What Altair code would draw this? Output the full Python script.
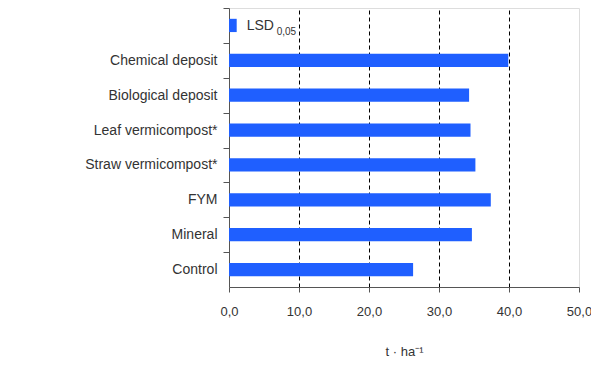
import altair as alt
import pandas as pd

# ---- data ----
categories = [
    "LSD",
    "Chemical deposit",
    "Biological deposit",
    "Leaf vermicompost*",
    "Straw vermicompost*",
    "FYM",
    "Mineral",
    "Control",
]
values = [1.1, 39.9, 34.3, 34.5, 35.2, 37.4, 34.7, 26.3]
x_ticks = [0, 10, 20, 30, 40, 50]
lsd_label = "LSD"
lsd_sub = "0,05"
x_title = "t · ha⁻¹"

df = pd.DataFrame({"treatment": categories, "yield": values})
lsd_df = df[df["treatment"] == "LSD"]

BLUE = "#1f5fff"
AXIS = "#555555"
TEXT = "#333333"
FONT = "Liberation Sans"

PLOT_W = 350
PLOT_H = 279
STEP = PLOT_H / len(categories)

y_scale = alt.Scale(paddingInner=0.62, paddingOuter=0.31)
x_scale = alt.Scale(domain=[0, 50], nice=False, zero=True)

x_enc = alt.X(
    "yield:Q",
    scale=x_scale,
    axis=alt.Axis(
        values=x_ticks,
        title=x_title,
        labelExpr="replace(format(datum.value, '.1f'), '.', ',')",
        labelFlush=False,
        grid=True,
        gridColor={
            "condition": {"test": "datum.value == 0 || datum.value == 50", "value": "transparent"},
            "value": "#000000",
        },
        gridDash=[4, 3],
        gridWidth=1,
        ticks=True,
        tickSize=5,
        tickWidth=1,
        tickOpacity=1,
        tickColor=AXIS,
        domainColor=AXIS,
        labelPadding=13,
        labelFont=FONT,
        labelFontSize=13,
        labelColor=TEXT,
        titleFont=FONT,
        titleFontSize=13,
        titleFontWeight="normal",
        titleColor=TEXT,
        titlePadding=27,
    ),
)

y_enc = alt.Y(
    "treatment:N",
    sort=categories,
    scale=y_scale,
    axis=alt.Axis(
        title=None,
        labelExpr="datum.value == 'LSD' ? '' : datum.value",
        ticks=True,
        tickBand="center",
        tickOffset=-STEP / 2,
        labelOffset=STEP / 2,
        tickSize=6,
        tickWidth=1,
        tickOpacity=1,
        tickColor=AXIS,
        domainColor=AXIS,
        labelPadding=6,
        labelFont=FONT,
        labelFontSize=14,
        labelColor=TEXT,
        grid=False,
    ),
)

bars = alt.Chart(df).mark_bar(color=BLUE).encode(x=x_enc, y=y_enc)

lsd_text = alt.Chart(lsd_df).mark_text(
    align="left", baseline="middle", dx=10, dy=1, fontSize=14, font=FONT, color=TEXT, text=lsd_label
).encode(
    x=alt.X("yield:Q", scale=x_scale),
    y=alt.Y("treatment:N", sort=categories, scale=y_scale),
)

lsd_sub_text = alt.Chart(lsd_df).mark_text(
    align="left", baseline="middle", dx=40, dy=7, fontSize=10, font=FONT, color=TEXT, text=lsd_sub
).encode(
    x=alt.X("yield:Q", scale=x_scale),
    y=alt.Y("treatment:N", sort=categories, scale=y_scale),
)

chart = (
    alt.layer(bars, lsd_text, lsd_sub_text)
    .properties(
        width=PLOT_W,
        height=PLOT_H,
        autosize=alt.AutoSizeParams(type="none"),
        padding={"left": 221, "top": 0, "right": 12, "bottom": 80},
    )
    .configure_view(stroke="#a0a0a0", strokeWidth=1)
    .configure(background="white")
)

chart.save("out.html", embed_options={"renderer": "svg", "actions": False})
